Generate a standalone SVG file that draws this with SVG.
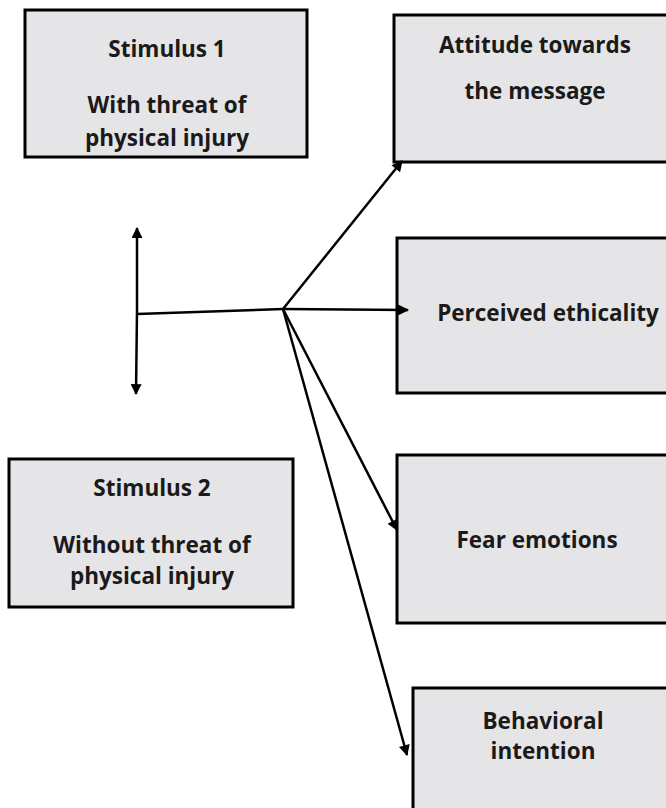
<svg xmlns="http://www.w3.org/2000/svg" width="666" height="808" viewBox="0 0 666 808">
<style>
.box{fill:#e5e4e6;stroke:#000;stroke-width:3}
.t{font-family:"Open Sans","Liberation Sans",sans-serif;font-weight:bold;font-size:22.5px;fill:#1a1a1a;text-anchor:middle}
.c{stroke:#000;stroke-width:2.5;fill:none}
</style>
<defs>
<marker id="ah" viewBox="0 0 10 10" refX="9" refY="5" markerWidth="5" markerHeight="4.4" orient="auto" markerUnits="strokeWidth">
<path d="M0,0 L10,5 L0,10 z" fill="#000"/>
</marker>
</defs>
<rect width="666" height="808" fill="#fff"/>
<g id="stimulus1">
<rect class="box" x="25" y="10" width="282" height="147"/>
<text class="t" x="167" y="57">Stimulus 1</text>
<text class="t" x="167" y="113">With threat of</text>
<text class="t" x="167" y="146">physical injury</text>
</g>
<g id="stimulus2">
<rect class="box" x="9" y="459" width="284" height="148"/>
<text class="t" x="152" y="496">Stimulus 2</text>
<text class="t" x="152" y="553">Without threat of</text>
<text class="t" x="152" y="584">physical injury</text>
</g>
<g id="attitude">
<rect class="box" x="394" y="15" width="280" height="147"/>
<text class="t" x="535" y="53">Attitude towards</text>
<text class="t" x="535" y="99">the message</text>
</g>
<g id="ethicality">
<rect class="box" x="397" y="238" width="280" height="155"/>
<text class="t" x="548" y="321">Perceived ethicality</text>
</g>
<g id="fear">
<rect class="box" x="397" y="455" width="280" height="168"/>
<text class="t" x="537" y="548">Fear emotions</text>
</g>
<g id="behavioral">
<rect class="box" x="413" y="688" width="270" height="140"/>
<text class="t" x="543" y="729">Behavioral</text>
<text class="t" x="543" y="759">intention</text>
</g>
<g id="connectors">
<line class="c" x1="137" y1="311" x2="137" y2="228" marker-end="url(#ah)"/>
<line class="c" x1="137" y1="311" x2="136" y2="394" marker-end="url(#ah)"/>
<line class="c" x1="137" y1="314" x2="283" y2="309"/>
<line class="c" x1="283" y1="309" x2="402" y2="161" marker-end="url(#ah)"/>
<line class="c" x1="283" y1="309" x2="408" y2="310" marker-end="url(#ah)"/>
<line class="c" x1="283" y1="309" x2="397" y2="530" marker-end="url(#ah)"/>
<line class="c" x1="283" y1="309" x2="407" y2="755" marker-end="url(#ah)"/>
</g>
</svg>
